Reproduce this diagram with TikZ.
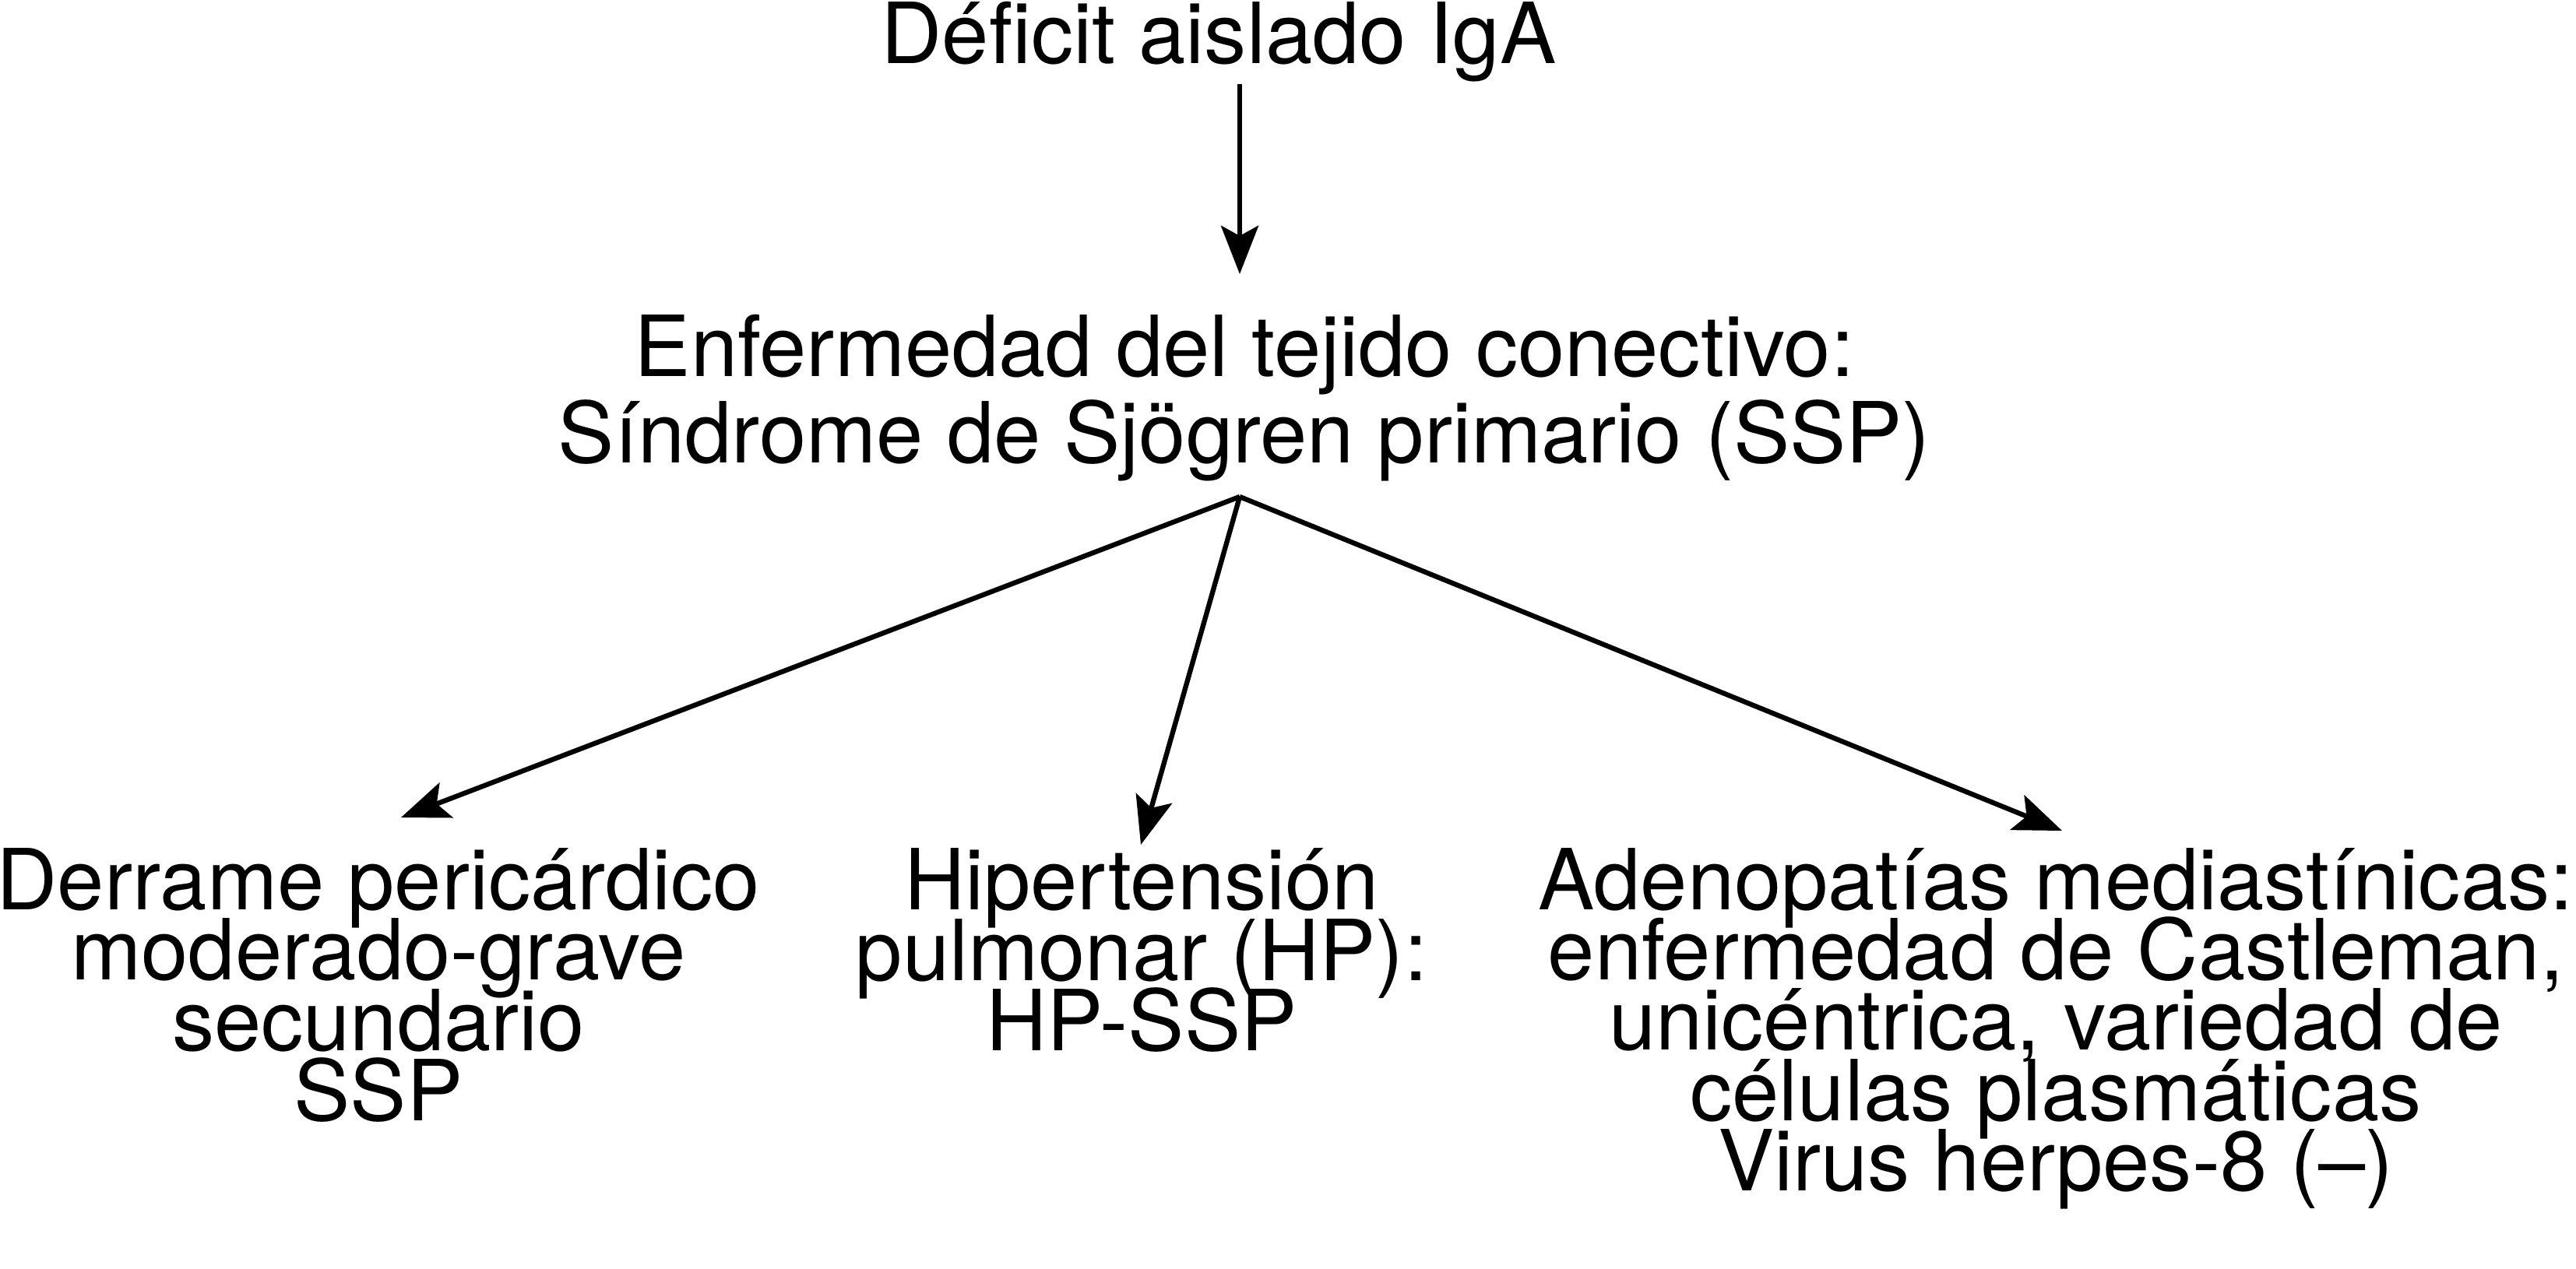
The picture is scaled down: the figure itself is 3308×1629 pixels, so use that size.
\documentclass[tikz,border=0pt]{standalone}
\usepackage{fontspec}
\setmainfont{TeX Gyre Heros}
\usetikzlibrary{arrows.meta}
\newcommand\myfontA{\fontsize{30.8pt}{25.6pt}\selectfont\setlength{\lineskiplimit}{-100pt}}
\newcommand\myfontB{\fontsize{30.8pt}{31.3pt}\selectfont\setlength{\lineskiplimit}{-100pt}}
\begin{document}
\begin{tikzpicture}[x=0.01cm,y=-0.01cm,
  lbl/.style={inner sep=0pt, align=center, anchor=base, font=\myfontA},
  lblmid/.style={lbl, font=\myfontB},
  arr/.style={line width=1.8pt, -{Stealth[length=0.62cm,width=0.48cm,inset=0.13cm]}}]
\useasboundingbox (0,0) rectangle (3308,1629);
\node[lbl] (title) at (1565,81) {Déficit aislado IgA};
\node[lblmid] (ssp) at (1598,594) {Enfermedad del tejido conectivo:\\Síndrome de Sjögren primario (SSP)};
\node[lbl] (left) at (486,1439) {Derrame pericárdico\\moderado-grave\\secundario\\SSP};
\node[lbl] (midb) at (1466,1349) {Hipertensión\\pulmonar (HP):\\HP-SSP};
\node[lbl] (right) at (2640,1529) {Adenopatías mediastínicas:\\enfermedad de Castleman,\\unicéntrica, variedad de\\células plasmáticas\\Virus herpes-8 (–)};
\coordinate (a1s) at (1592,108);
\coordinate (a1e) at (1592,352);
\coordinate (split) at (1592,638);
\coordinate (tL) at (515,1050);
\coordinate (tM) at (1465,1085);
\coordinate (tR) at (2648,1067);
\draw[arr] (a1s) -- (a1e);
\draw[arr] (split) -- (tL);
\draw[arr] (split) -- (tM);
\draw[arr] (split) -- (tR);
\end{tikzpicture}
\end{document}
